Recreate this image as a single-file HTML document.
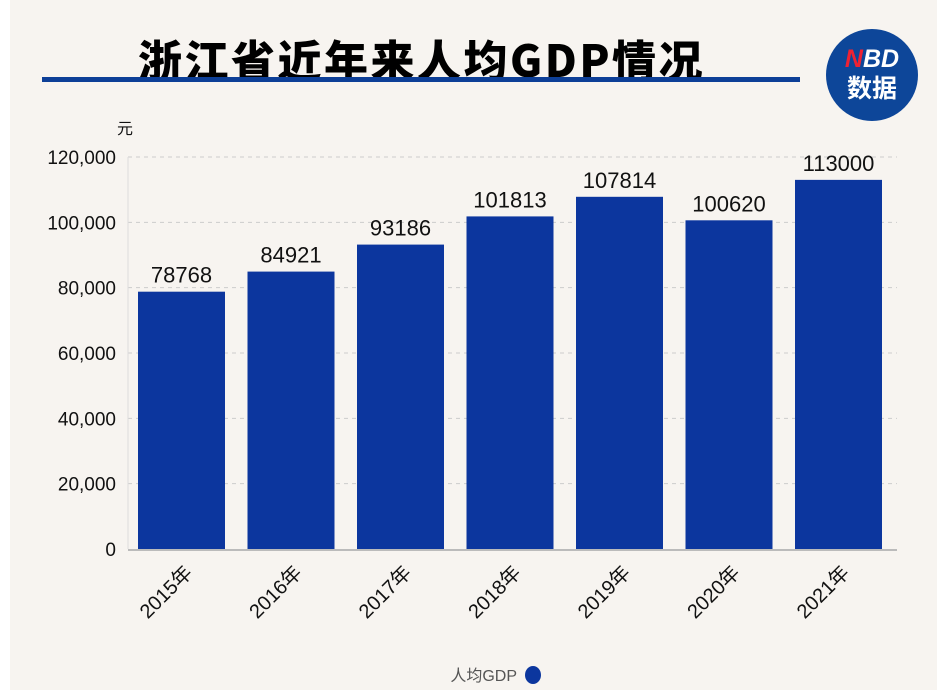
<!DOCTYPE html>
<html><head><meta charset="utf-8">
<style>
body{margin:0;background:#fff;}
#wrap{position:relative;width:937px;height:698px;overflow:hidden;background:#fff;font-family:"Liberation Sans","Noto Sans CJK SC",sans-serif;}
#panel{position:absolute;left:10px;top:0;width:927px;height:690px;background:#f7f4f0;}
#title{position:absolute;left:138px;top:30px;font-size:44px;font-weight:900;color:#000;letter-spacing:2.5px;font-family:"Noto Sans CJK SC","WenQuanYi Zen Hei",sans-serif;line-height:56px;}
#rule{position:absolute;left:42px;top:77px;width:758px;height:5px;background:#0d3f97;}
#logo{position:absolute;left:826px;top:29px;width:92px;height:92px;border-radius:50%;background:#0d4699;color:#fff;text-align:center;font-weight:bold;font-family:"Liberation Sans","Noto Sans CJK SC",sans-serif;}
</style></head><body>
<div id="wrap">
<div id="panel"></div>
<div id="title">浙江省近年来人均GDP情况</div>
<div id="rule"></div>
<div id="logo"><div style="font-size:25px;margin-top:17px;line-height:26px;font-style:italic"><span style="color:#e23">N</span>BD</div><div style="font-size:25px;line-height:30px;font-family:'Noto Sans CJK SC',sans-serif">数据</div></div>
<svg id="chart" width="937" height="698" style="position:absolute;left:0;top:0"></svg>
</div>
<script>
const categories=["2015年","2016年","2017年","2018年","2019年","2020年","2021年"];
const values=[78768,84921,93186,101813,107814,100620,113000];
const ticks=[0,20000,40000,60000,80000,100000,120000];
const tickLabels=["0","20,000","40,000","60,000","80,000","100,000","120,000"];
const NS="http://www.w3.org/2000/svg";
const svg=document.getElementById('chart');
const x0=128,x1=897,y0=549,yTop=157,ymax=120000;
const step=109.5,first=181.5,bw=87;
function yS(v){return y0-(v/ymax)*(y0-yTop);}
function xS(i){return first+i*step;}
function mk(t,a){const e=document.createElementNS(NS,t);for(const k in a)e.setAttribute(k,a[k]);svg.appendChild(e);return e;}
ticks.forEach((t,i)=>{
  if(t>0){const g=mk('line',{x1:x0,x2:x1,y1:yS(t),y2:yS(t),stroke:'#ccc','stroke-dasharray':'4,4'});
  
  }
  const l=mk('text',{x:116,y:yS(t)+7,'text-anchor':'end','font-size':'19','fill':'#111','font-family':'Liberation Sans,sans-serif'});
  l.textContent=tickLabels[i];
  
  
});
const u=mk('text',{x:117,y:134,'font-size':'16','fill':'#111','font-family':'Noto Sans CJK SC,sans-serif'});u.textContent='元';


values.forEach((v,i)=>{
  const b=mk('rect',{x:xS(i)-bw/2,y:yS(v),width:bw,height:y0-yS(v),fill:'#0c369e'});
  
  
  const t=mk('text',{x:xS(i),y:yS(v)-9,'text-anchor':'middle','font-size':'22','fill':'#111','font-family':'Liberation Sans,sans-serif'});
  t.textContent=String(v);
  
  
  const c=mk('text',{x:xS(i)+12,y:574,'text-anchor':'end','font-size':'20','fill':'#111','font-family':'Liberation Sans,Noto Sans CJK SC,sans-serif',transform:`rotate(-45 ${xS(i)+12} 574)`});
  c.textContent=categories[i];
  
  
});
const ax=mk('line',{x1:x0,x2:x1,y1:y0+1,y2:y0+1,stroke:'#bbb','stroke-width':'2'});


const ay=mk('line',{x1:x0,x2:x0,y1:yTop,y2:y0,stroke:'#ddd','stroke-width':'1'});


const lt=mk('text',{x:517,y:681,'text-anchor':'end','font-size':'16','fill':'#555','font-family':'Liberation Sans,Noto Sans CJK SC,sans-serif'});lt.textContent='人均GDP';


const lc=mk('ellipse',{cx:533,cy:675,rx:8,ry:9,fill:'#0c369e'});


</script>
</body></html>
